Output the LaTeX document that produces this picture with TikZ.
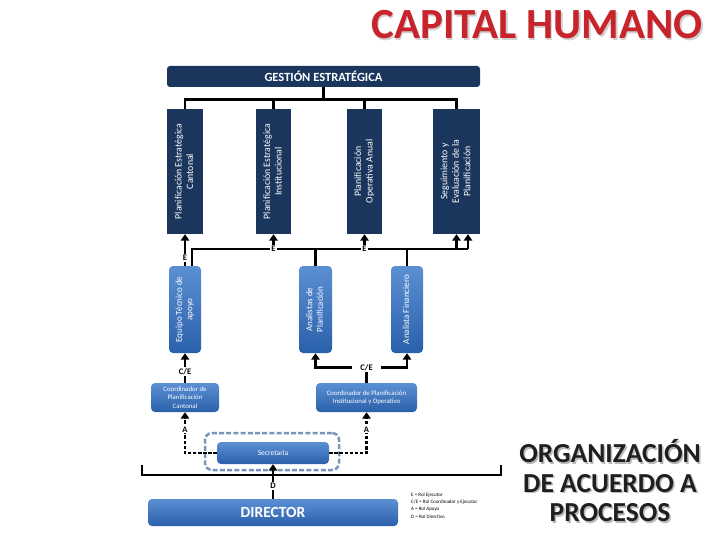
\documentclass[tikz,border=0pt]{standalone}
\usepackage{fontspec}
\usepackage{graphicx}
\setmainfont{Carlito}
\usetikzlibrary{arrows.meta,calc}
\definecolor{navy}{HTML}{1B365D}
\definecolor{btop}{HTML}{5C90D4}
\definecolor{bbot}{HTML}{2A60AA}
\definecolor{dashc}{HTML}{7A95BC}
\definecolor{titlered}{HTML}{C8242B}
\newcommand{\vtext}[1]{\rotatebox{90}{\begin{tabular}{@{}c@{}}#1\end{tabular}}}
\begin{document}
\begin{tikzpicture}[x=1pt,y=-1pt,
  topbox/.style={rectangle, fill=navy, inner sep=0pt, text=white, minimum height=125pt, font=\fontsize{9.8}{11.5}\selectfont},
  lowbox/.style={rectangle, rounded corners=4pt, top color=btop, bottom color=bbot, inner sep=0pt, text=white},
  conn/.style={line width=2.9pt, black},
  arr/.style={conn, -{Triangle[width=8.5pt,length=6.5pt]}},
  dotarr/.style={arr, dash pattern=on 3.5pt off 1.6pt},
  lab/.style={fill=white, inner sep=1.2pt, font=\fontsize{8.5}{9}\selectfont\bfseries}]
\useasboundingbox (0,0) rectangle (720,540);

% titles
\node[font=\fontsize{43}{43}\selectfont\bfseries, text=black!18] (titlesh) at (538.5,26.5) {CAPITAL HUMANO};
\node[font=\fontsize{43}{43}\selectfont\bfseries, text=titlered] (title) at (537,25) {CAPITAL HUMANO};
\node[align=center, font=\fontsize{27.5}{29.5}\selectfont\bfseries, text=black!28] (orgsh) at (611.5,482.5) {ORGANIZACIÓN\\DE ACUERDO A\\PROCESOS};
\node[align=center, font=\fontsize{27.5}{29.5}\selectfont\bfseries, text=black!88] (org) at (610,481) {ORGANIZACIÓN\\DE ACUERDO A\\PROCESOS};

% top bar
\node[rectangle, rounded corners=3pt, fill=navy, minimum width=313pt, minimum height=21pt, inner sep=0pt, text=white, font=\fontsize{12.5}{13}\selectfont\bfseries] (ge) at (323.5,76.5) {GESTIÓN ESTRATÉGICA};

% upper boxes
\node[topbox, minimum width=36pt] (p1) at (185,171.5) {\vtext{Planificación Estratégica\\Cantonal}};
\node[topbox, minimum width=35pt] (p2) at (273.5,171.5) {\vtext{Planificación Estratégica\\Institucional}};
\node[topbox, minimum width=35pt] (p3) at (364.5,171.5) {\vtext{Planificación\\Operativa Anual}};
\node[topbox, minimum width=47pt] (p4) at (456.5,171.5) {\vtext{Seguimiento y\\Evaluación de la\\Planificación}};

% lower boxes
\node[lowbox, minimum width=32pt, minimum height=87pt, font=\fontsize{9}{10.5}\selectfont] (eq) at (185,309.5) {\vtext{Equipo Técnico de\\apoyo}};
\node[lowbox, minimum width=33pt, minimum height=87pt, font=\fontsize{9}{10.5}\selectfont] (an) at (315.5,309.5) {\vtext{Analistas de\\Planificación}};
\node[lowbox, minimum width=32pt, minimum height=87pt, font=\fontsize{9}{10.5}\selectfont] (fin) at (407,309.5) {\vtext{Analista Financiero}};

% coordinators
\node[lowbox, minimum width=68pt, minimum height=29pt, align=center, font=\fontsize{6.8}{8.5}\selectfont] (cc) at (185,397.5) {Coordinador de\\Planificación\\Cantonal};
\node[lowbox, minimum width=101pt, minimum height=29pt, align=center, font=\fontsize{6.8}{8.5}\selectfont] (ci) at (366.5,397.5) {Coordinador de Planificación\\Institucional y Operativo};

% secretaria and director
\node[rectangle, rounded corners=7pt, draw=dashc, line width=2.5pt, dash pattern=on 5pt off 2.2pt, minimum width=134pt, minimum height=37pt] (secw) at (272,451.5) {};
\node[lowbox, minimum width=112pt, minimum height=22pt, font=\fontsize{7.5}{8}\selectfont] (sec) at (273,453) {Secretaria};
\node[lowbox, minimum width=250pt, minimum height=27pt, font=\fontsize{15.5}{16}\selectfont\bfseries] (dir) at (273,512.5) {DIRECTOR};

% legend
\node[anchor=west, align=left, font=\fontsize{5}{7.2}\selectfont, inner sep=0pt] (leg) at (411,505.5) {E = Rol Ejecutor\\C/E = Rol Coordinador y Ejecutor\\A = Rol Apoyo\\D = Rol Directivo};

% top connectors
\draw[conn] (ge.south) -- ++(0,12.5) coordinate (hub);
\draw[conn] (hub) -| (p1.north);
\draw[conn] (hub) -| (p2.north);
\draw[conn] (hub) -| (p3.north);
\draw[conn] (hub) -| (p4.north);

% E bus
\coordinate (busL) at (192,249);
\coordinate (busR) at (468,249);
\draw[conn] ([xshift=7pt]eq.north) -- (busL) -- (busR);
\draw[conn] (busR -| an.north) -- (an.north);
\draw[conn] (busR -| fin.north) -- (fin.north);
\draw[arr] (busR) -- (busR |- p4.south);
\draw[arr] (busR -| p4.south) -- (p4.south);
\draw[arr] (busR -| p3.south) -- (p3.south) node[lab, pos=0]{E};
\draw[arr] (busR -| p2.south) -- (p2.south) node[lab, pos=0]{E};
\draw[arr] (eq.north) -- (p1.south) node[lab, pos=0.25]{E};

% C/E
\draw[arr] (cc.north) -- (eq.south) node[lab, pos=0.37]{C/E};
\draw[conn] (ci.north) -- ++(0,-15) coordinate (cehub);
\draw[arr] (cehub) -| (an.south);
\draw[arr] (cehub) -| (fin.south);
\node[lab, inner xsep=8pt] (celab) at (cehub) {C/E};

% A
\draw[dotarr] (sec.west) -| (cc.south) node[lab, pos=0.79]{A};
\draw[dotarr] (sec.east) -| (ci.south) node[lab, pos=0.79]{A};

% bracket
\draw[conn] (142,465) -- (142,475) -- (501,475) -- (501,465);

% D
\draw[arr] (dir.north) -- (sec.south) node[lab, pos=0.37]{D};
\end{tikzpicture}
\end{document}
